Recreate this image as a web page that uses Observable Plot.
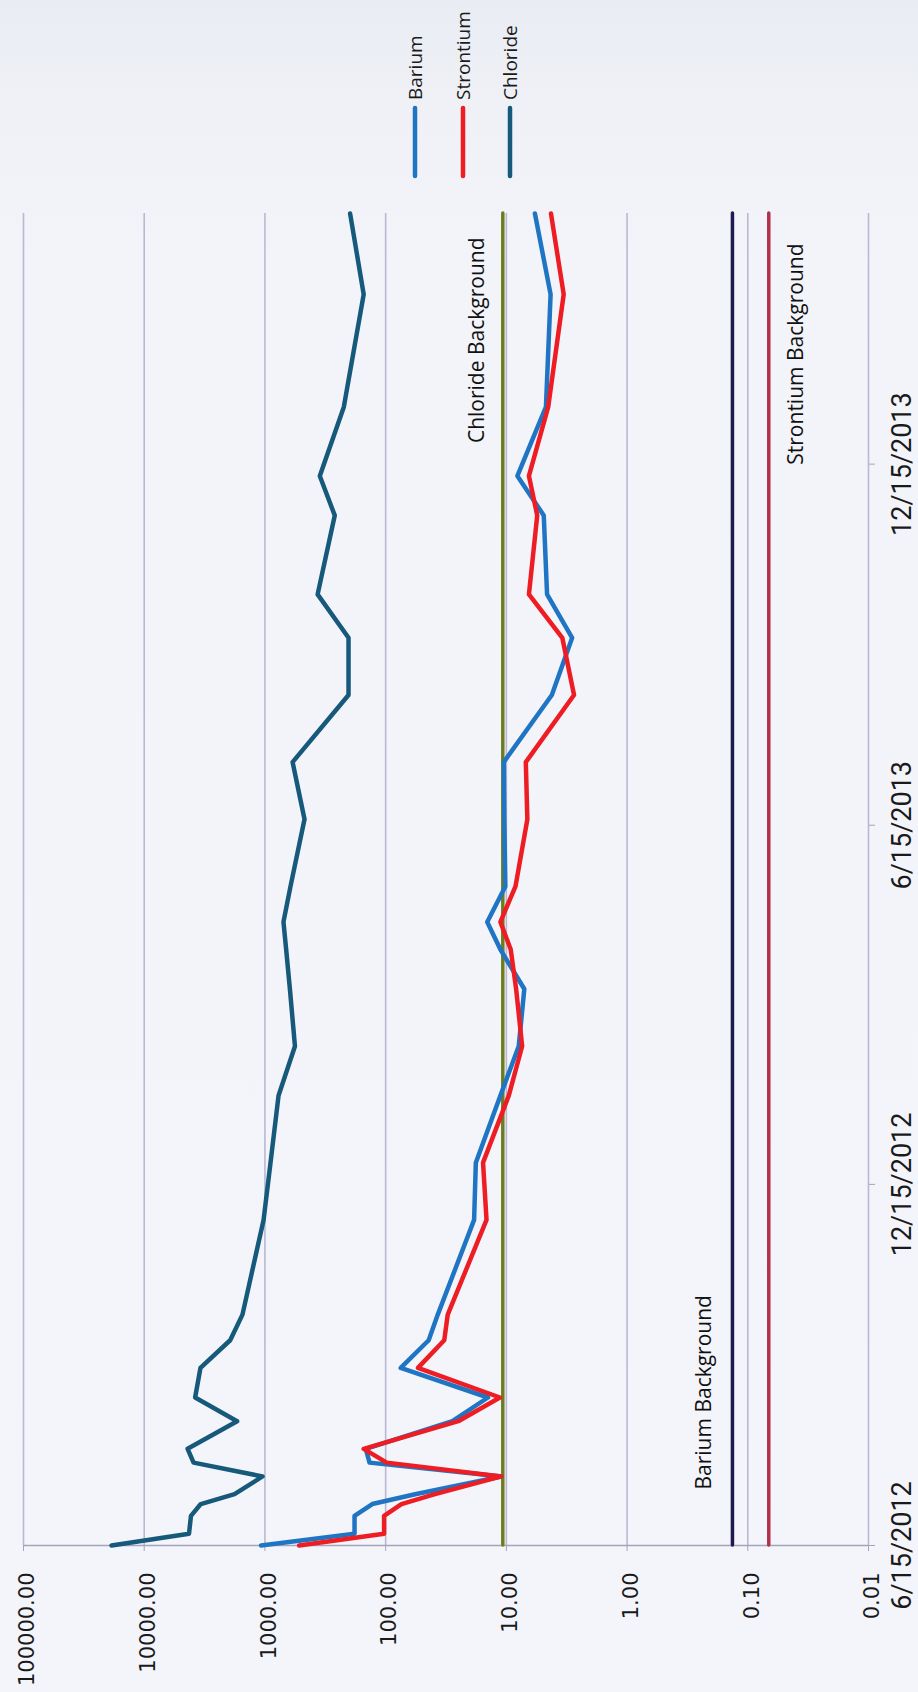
<!DOCTYPE html>
<html><head><meta charset="utf-8">
<script src="https://cdn.jsdelivr.net/npm/d3@7"></script>
<script src="https://cdn.jsdelivr.net/npm/@observablehq/plot@0.6"></script>
<style>
html,body{margin:0;padding:0;}
body{background:linear-gradient(to bottom,#e9ecf3 0px,#eff1f6 110px,#f3f4f9 260px,#f4f5fa 100%);}
#chart{width:918px;height:1692px;position:relative;}
svg{display:block;}
</style></head><body><div id="chart"></div>
<script>
// ---- data ----
const sampleDates = ["2012-06-15","2012-06-21","2012-06-30","2012-07-06","2012-07-11","2012-07-20","2012-07-27","2012-08-03","2012-08-17","2012-08-29","2012-09-13","2012-09-27","2012-10-10","2012-11-27","2012-12-26","2013-01-29","2013-02-23","2013-03-24","2013-04-13","2013-04-27","2013-05-15","2013-06-18","2013-07-17","2013-08-20","2013-09-18","2013-10-10","2013-11-19","2013-12-09","2014-01-13","2014-03-11","2014-04-21"];
const barium    = [1077,181,181,129,57,11,136,146,28,14.2,75,44,37,18.5,17.9,11.2,7.9,7.1,11.2,14.4,10.2,10.4,10.5,4.2,2.85,4.6,4.9,8.1,4.7,4.3,5.8];
const strontium = [521,103,103,74,39,11,98,152,25,11.3,54,32.7,30.6,14.6,15.6,9.55,7.4,8.3,9.2,11.2,8.4,6.7,6.9,2.75,3.44,6.5,5.55,6.5,4.5,3.35,4.27];
const chloride  = [18660,4256,4100,3400,1786,1047,3900,4370,1700,3785,3420,1940,1535,1026,899,771,564,621,667,702,614,470,590,203,203,366,264,351,222,152,197];

const seriesNames  = ["Barium","Strontium","Chloride"];
const seriesColors = ["#1f74c4","#ee1d23","#16597b"];

const backgroundNames  = ["Barium Background","Strontium Background","Chloride Background"];
const backgroundValues = [0.134, 0.067, 10.7];
const backgroundColors = ["#1c1a4e","#b3304a","#6c7c1e"];

const valueTicks      = [0.01,0.1,1,10,100,1000,10000,100000];
const valueTickLabels = ["0.01","0.10","1.00","10.00","100.00","1000.00","10000.00","100000.00"];
const dateTicks       = ["2012-06-15","2012-12-15","2013-06-15","2013-12-15"];
const dateTickLabels  = ["6/15/2012","12/15/2012","6/15/2013","12/15/2013"];
const dateDomain      = ["2012-06-15","2014-04-21"];

// ---- build tables ----
const seriesValues = [barium, strontium, chloride];
const rows = seriesNames.flatMap((name, s) =>
  sampleDates.map((d, i) => ({series: name, date: new Date(d), value: seriesValues[s][i]})));
const bgRows = backgroundNames.map((n, i) => ({name: n, value: backgroundValues[i], color: backgroundColors[i]}));
const dTicks = dateTicks.map(d => new Date(d));

const gridColor = "#b8b8d4";
const axisColor = "#a4a4bc";

const chart = Plot.plot({
  width: 918,
  height: 1692,
  marginLeft: 23,
  marginRight: 50,
  marginTop: 213,
  marginBottom: 147,
  style: {background: "transparent", fontFamily: "'Open Sans', sans-serif", color: "#222"},
  x: {type: "log", domain: [0.01, 100000], reverse: true},
  y: {type: "utc", domain: dateDomain.map(d => new Date(d))},
  marks: [
    Plot.ruleX(valueTicks, {stroke: gridColor, strokeWidth: 1.6}),
    Plot.ruleY([dTicks[0]], {stroke: axisColor, strokeWidth: 1.6}),
    Plot.axisX({anchor: "bottom", ticks: valueTicks, tickSize: 6, tickFormat: () => "", stroke: axisColor, label: null}),
    Plot.axisY({anchor: "right", ticks: dTicks, tickSize: 6, tickFormat: () => "", stroke: axisColor, label: null}),
    Plot.text(valueTicks, {x: d => d, text: (d, i) => valueTickLabels[i], frameAnchor: "bottom", dy: 27, dx: 4,
      rotate: -90, textAnchor: "end", lineAnchor: "middle", fontSize: 21, fontFamily: "'DejaVu Sans', sans-serif", fill: "#1a1a1a"}),
    Plot.text(dTicks, {y: d => d, text: (d, i) => dateTickLabels[i], frameAnchor: "right", dx: 34,
      rotate: -90, textAnchor: "middle", lineAnchor: "middle", fontSize: 27, fontFamily: "Roboto, sans-serif", fill: "#1a1a1a"}),
    Plot.ruleX(bgRows, {x: "value", stroke: "color", strokeWidth: 3.5, strokeLinecap: "round"}),
    Plot.line(rows, {x: "value", y: "date", z: "series", stroke: d => seriesColors[seriesNames.indexOf(d.series)],
      strokeWidth: 4.5, strokeLinejoin: "round", strokeLinecap: "round"}),
    // background labels
    Plot.text([bgRows[2]], {x: "value", text: "name", frameAnchor: "top", dy: 24, dx: -26, rotate: -90,
      textAnchor: "end", lineAnchor: "middle", fontSize: 21, fill: "#111"}),
    Plot.text([bgRows[1]], {x: "value", text: "name", frameAnchor: "top", dy: 30, dx: 27, rotate: -90,
      textAnchor: "end", lineAnchor: "middle", fontSize: 21, fill: "#111"}),
    Plot.text([bgRows[0]], {x: "value", text: "name", frameAnchor: "bottom", dy: -56, dx: -28, rotate: -90,
      textAnchor: "start", lineAnchor: "middle", fontSize: 21, fill: "#111"})
  ]
});

// legend (rotated, above the plot)
const svg = d3.select(chart);
const lg = svg.append("g").attr("class", "legend");
const legendX = [415, 463, 510];
seriesNames.forEach((name, i) => {
  lg.append("line").attr("x1", legendX[i]).attr("x2", legendX[i]).attr("y1", 108).attr("y2", 176)
    .attr("stroke", seriesColors[i]).attr("stroke-width", 4.5).attr("stroke-linecap", "round");
  lg.append("text").attr("transform", `translate(${legendX[i]},100) rotate(-90)`)
    .attr("dy", "0.35em").attr("text-anchor", "start")
    .attr("font-family", "'Open Sans', sans-serif").attr("font-size", 19).attr("fill", "#1a1a1a")
    .text(name);
});

document.getElementById("chart").appendChild(chart);
</script></body></html>
